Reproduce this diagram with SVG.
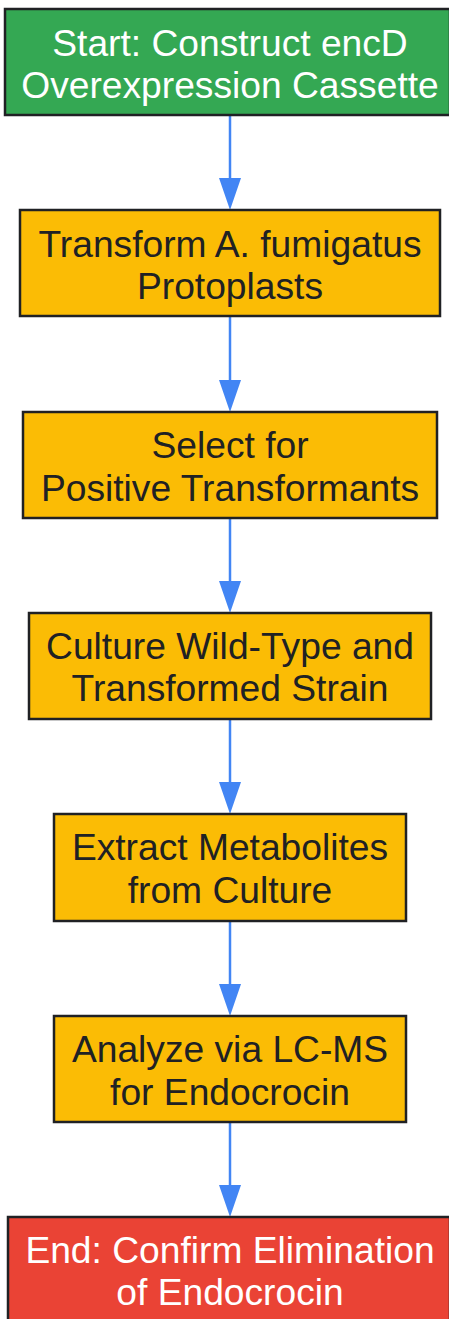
<svg xmlns="http://www.w3.org/2000/svg" width="449" height="1319" viewBox="0 0 449 1319">
<defs>
<style>
.box{stroke:#202124;stroke-width:2.5}
.start{fill:#34A853}
.step{fill:#FBBC05}
.end{fill:#EA4335}
text{font-family:"Liberation Sans",Arial,sans-serif;font-size:37.2px;text-anchor:middle}
.lt{fill:#FFFFFF}
.dk{fill:#202124}
.edge{stroke:#4285F4;stroke-width:2.5;fill:none}
.head{fill:#4285F4}
</style>
</defs>
<g id="connectors">
<line class="edge" x1="230" y1="116" x2="230" y2="180"/>
<path class="head" d="M219,178 L241,178 L230,210 Z"/>
<line class="edge" x1="230" y1="317" x2="230" y2="382"/>
<path class="head" d="M219,380 L241,380 L230,412 Z"/>
<line class="edge" x1="230" y1="518" x2="230" y2="583"/>
<path class="head" d="M219,581 L241,581 L230,613 Z"/>
<line class="edge" x1="230" y1="720" x2="230" y2="784"/>
<path class="head" d="M219,782 L241,782 L230,814 Z"/>
<line class="edge" x1="230" y1="921" x2="230" y2="986"/>
<path class="head" d="M219,984 L241,984 L230,1016 Z"/>
<line class="edge" x1="230" y1="1123" x2="230" y2="1187"/>
<path class="head" d="M219,1185 L241,1185 L230,1217 Z"/>
</g>
<g id="node1">
<rect class="box start" x="5" y="9" width="445" height="106"/>
<text class="lt" x="230" y="56">Start: Construct encD</text>
<text class="lt" x="230" y="98">Overexpression Cassette</text>
</g>
<g id="node2">
<rect class="box step" x="20" y="210" width="420" height="106"/>
<text class="dk" x="230" y="257">Transform A. fumigatus</text>
<text class="dk" x="230" y="299">Protoplasts</text>
</g>
<g id="node3">
<rect class="box step" x="23" y="412" width="414" height="106"/>
<text class="dk" x="230" y="458">Select for</text>
<text class="dk" x="230" y="501">Positive Transformants</text>
</g>
<g id="node4">
<rect class="box step" x="29" y="613" width="402" height="106"/>
<text class="dk" x="230" y="659">Culture Wild-Type and</text>
<text class="dk" x="230" y="701">Transformed Strain</text>
</g>
<g id="node5">
<rect class="box step" x="54" y="814" width="352" height="107"/>
<text class="dk" x="230" y="860">Extract Metabolites</text>
<text class="dk" x="230" y="903">from Culture</text>
</g>
<g id="node6">
<rect class="box step" x="54" y="1016" width="352" height="106"/>
<text class="dk" x="230" y="1062">Analyze via LC-MS</text>
<text class="dk" x="230" y="1105">for Endocrocin</text>
</g>
<g id="node7">
<rect class="box end" x="8" y="1217" width="442" height="106"/>
<text class="lt" x="230" y="1263">End: Confirm Elimination</text>
<text class="lt" x="230" y="1305">of Endocrocin</text>
</g>
</svg>
